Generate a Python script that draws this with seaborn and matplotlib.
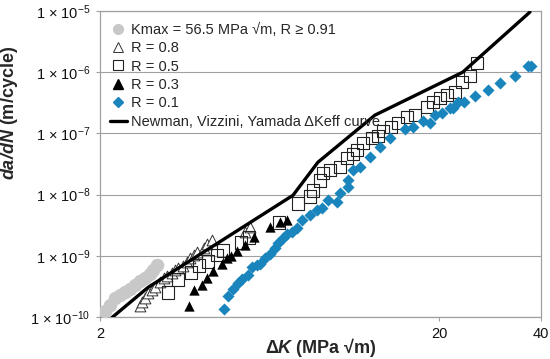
import matplotlib
matplotlib.use("Agg")
import matplotlib.pyplot as plt
import seaborn as sns
import pandas as pd
from matplotlib.lines import Line2D
from matplotlib.ticker import FixedLocator, NullLocator, FixedFormatter

# ---------------- data ----------------
kmax_dk = [2.07, 2.14, 2.21, 2.29, 2.37, 2.45, 2.54, 2.62, 2.71, 2.81, 2.87, 2.95]
kmax_da = [1.23e-10, 1.60e-10, 2.08e-10, 2.25e-10, 2.61e-10, 2.82e-10, 3.28e-10,
           3.81e-10, 4.27e-10, 4.96e-10, 5.77e-10, 6.97e-10]

r08_dk = [2.62, 2.66, 2.71, 2.77, 2.85, 2.91, 3.01, 3.09, 3.15, 3.26, 3.33, 3.40,
          3.51, 3.61, 3.69, 3.79, 3.87, 4.05, 4.14, 4.28, 5.36, 5.54]
r08_da = [1.54e-10, 1.73e-10, 2.08e-10, 2.43e-10, 2.72e-10, 3.04e-10, 3.67e-10,
          4.27e-10, 4.60e-10, 5.15e-10, 5.77e-10, 6.30e-10, 6.71e-10, 7.80e-10,
          9.06e-10, 1.02e-9, 1.14e-9, 1.32e-9, 1.54e-9, 1.79e-9, 2.42e-9, 2.92e-9]

r05_dk = [3.17, 3.40, 3.71, 3.92, 4.17, 4.43, 4.61, 5.21, 5.50, 6.75, 7.67, 8.33,
          8.50, 8.91, 9.10, 9.54, 10.21, 10.71, 11.15, 11.46, 11.94, 12.69, 13.21,
          13.68, 14.44, 15.14, 16.09, 16.99, 18.44, 19.20, 20.14, 21.1, 22.3, 23.4,
          24.7, 25.9]
r05_da = [2.52e-10, 4.11e-10, 5.35e-10, 6.97e-10, 8.09e-10, 1.02e-9, 1.22e-9,
          1.66e-9, 2.00e-9, 3.52e-9, 7.21e-9, 9.38e-9, 1.17e-8, 1.71e-8, 2.23e-8,
          2.50e-8, 2.80e-8, 3.93e-8, 4.57e-8, 5.31e-8, 6.92e-8, 8.34e-8, 9.0e-8,
          1.09e-7, 1.26e-7, 1.47e-7, 1.84e-7, 1.99e-7, 2.69e-7, 3.24e-7, 3.77e-7,
          4.22e-7, 4.72e-7, 6.89e-7, 8.63e-7, 1.41e-6]

r03_dk = [3.66, 3.79, 4.00, 4.14, 4.31, 4.58, 4.74, 4.87, 5.07, 5.36, 5.69, 6.35,
          6.79, 7.12]
r03_da = [1.49e-10, 2.72e-10, 3.28e-10, 4.27e-10, 5.56e-10, 7.23e-10, 9.06e-10,
          9.77e-10, 1.18e-9, 1.48e-9, 2.00e-9, 2.92e-9, 3.52e-9, 3.80e-9]

r01_dk = [4.64, 4.77, 4.94, 5.11, 5.25, 5.47, 5.62, 5.81, 5.93, 6.13, 6.35, 6.57,
          6.70, 6.93, 7.12, 7.37, 7.62, 7.89, 8.33, 8.73, 9.04, 9.41, 10.00, 10.21,
          10.78, 10.78, 11.15, 11.69, 12.52, 13.40, 14.34, 15.88, 16.76, 17.94,
          18.82, 19.46, 20.41, 21.55, 21.99, 22.76, 23.70, 25.55, 27.90, 30.27,
          33.52, 36.60, 37.36]
r01_da = [1.33e-10, 2.17e-10, 2.82e-10, 3.53e-10, 4.11e-10, 4.78e-10, 6.46e-10,
          6.97e-10, 7.23e-10, 9.06e-10, 1.09e-9, 1.32e-9, 1.60e-9, 1.93e-9, 2.24e-9,
          2.42e-9, 2.81e-9, 3.80e-9, 4.58e-9, 5.53e-9, 5.97e-9, 8.07e-9, 7.48e-9,
          1.05e-8, 1.32e-8, 1.71e-8, 2.50e-8, 2.80e-8, 4.08e-8, 5.94e-8, 8.34e-8,
          1.17e-7, 1.26e-7, 1.58e-7, 1.47e-7, 1.99e-7, 2.14e-7, 2.58e-7, 2.58e-7,
          3.24e-7, 3.24e-7, 4.06e-7, 5.09e-7, 6.63e-7, 8.63e-7, 1.26e-6, 1.26e-6]

newman_dk = [2.17, 2.77, 7.42, 8.79, 12.95, 23.5, 37.1]
newman_da = [0.98e-10, 3.04e-10, 9.75e-9, 3.38e-8, 1.99e-7, 1.0e-6, 9.6e-6]

legend_labels = ["Kmax = 56.5 MPa \u221am, R \u2265 0.91", "R = 0.8", "R = 0.5",
                 "R = 0.3", "R = 0.1", "Newman, Vizzini, Yamada \u0394Keff curve"]
ytick_vals = [1e-10, 1e-9, 1e-8, 1e-7, 1e-6, 1e-5]
ytick_labels = ["1 \u00d7 10$^{-10}$", "1 \u00d7 10$^{-9}$", "1 \u00d7 10$^{-8}$",
                "1 \u00d7 10$^{-7}$", "1 \u00d7 10$^{-6}$", "1 \u00d7 10$^{-5}$"]
xtick_vals = [2, 20, 40]
xtick_labels = ["2", "20", "40"]

# ---------------- styling ----------------
sns.set_theme(style="white")
plt.rcParams["font.family"] = ["Liberation Sans", "DejaVu Sans"]
plt.rcParams["mathtext.fontset"] = "custom"
plt.rcParams["mathtext.rm"] = "Liberation Sans"
plt.rcParams["mathtext.it"] = "Liberation Sans:italic"
plt.rcParams["mathtext.bf"] = "Liberation Sans:bold"
plt.rcParams["mathtext.bfit"] = "Liberation Sans:italic:bold"
plt.rcParams["mathtext.default"] = "regular"

GRAY_C = "#c8c8c8"
BLUE = "#1a84bd"
AX_GRAY = "#a0a0a0"

fig = plt.figure(figsize=(5.5, 3.59), dpi=100)
ax = fig.add_axes([100 / 550, 1 - 317 / 359, 441 / 550, 306 / 359])

df_k = pd.DataFrame({"dk": kmax_dk, "da": kmax_da})
df_8 = pd.DataFrame({"dk": r08_dk, "da": r08_da})
df_5 = pd.DataFrame({"dk": r05_dk, "da": r05_da})
df_3 = pd.DataFrame({"dk": r03_dk, "da": r03_da})
df_1 = pd.DataFrame({"dk": r01_dk, "da": r01_da})
df_n = pd.DataFrame({"dk": newman_dk, "da": newman_da})

ax.set_xscale("log")
ax.set_yscale("log")

sns.scatterplot(data=df_k, x="dk", y="da", ax=ax, marker="o", s=95,
                color=GRAY_C, edgecolor=GRAY_C, linewidth=0, zorder=3)
sns.scatterplot(data=df_8, x="dk", y="da", ax=ax, marker="^", s=60,
                facecolor="white", edgecolor="#333333", linewidth=0.7, zorder=3)
sns.scatterplot(data=df_5, x="dk", y="da", ax=ax, marker="s", s=80,
                facecolor="none", edgecolor="#222222", linewidth=0.8, zorder=3)
sns.scatterplot(data=df_3, x="dk", y="da", ax=ax, marker="^", s=55,
                color="black", edgecolor="black", linewidth=0, zorder=4)
sns.scatterplot(data=df_1, x="dk", y="da", ax=ax, marker="D", s=38,
                color=BLUE, edgecolor=BLUE, linewidth=0, zorder=4)
sns.lineplot(data=df_n, x="dk", y="da", ax=ax, sort=False, color="black",
             linewidth=2.4, zorder=5)

ax.set_xlim(2, 40)
ax.set_ylim(1e-10, 1e-5)

ax.yaxis.set_major_locator(FixedLocator(ytick_vals))
ax.yaxis.set_major_formatter(FixedFormatter(ytick_labels))
ax.yaxis.set_minor_locator(NullLocator())
ax.xaxis.set_major_locator(FixedLocator(xtick_vals))
ax.xaxis.set_major_formatter(FixedFormatter(xtick_labels))
ax.xaxis.set_minor_locator(NullLocator())

ax.tick_params(axis="both", which="major", direction="out", length=3,
               width=0.8, color=AX_GRAY, labelsize=10.5, pad=4,
               labelcolor="#111111")
ax.tick_params(axis="x", pad=4)
ax.tick_params(axis="x", bottom=True)
ax.tick_params(axis="y", left=True)

ax.grid(True, axis="y", color=AX_GRAY, linewidth=0.8)
ax.grid(False, axis="x")
for sp in ax.spines.values():
    sp.set_visible(True)
    sp.set_color(AX_GRAY)
    sp.set_linewidth(0.9)

ax.set_xlabel("$\\mathbf{\\Delta}\\mathbfit{K}$ (MPa \u221am)",
              fontsize=13, fontweight="bold")
ax.xaxis.set_label_coords(0.5, -0.062)
ax.set_ylabel(r"$\mathbfit{da/dN}$ (m/cycle)", fontsize=13, fontweight="bold")
ax.yaxis.set_label_coords(-0.182, 0.667)

handles = [
    Line2D([], [], linestyle="none", marker="o", markersize=7,
           markerfacecolor=GRAY_C, markeredgecolor=GRAY_C),
    Line2D([], [], linestyle="none", marker="^", markersize=6.5,
           markerfacecolor="white", markeredgecolor="#333333", markeredgewidth=0.7),
    Line2D([], [], linestyle="none", marker="s", markersize=6.5,
           markerfacecolor="none", markeredgecolor="#222222", markeredgewidth=0.8),
    Line2D([], [], linestyle="none", marker="^", markersize=6.5,
           markerfacecolor="black", markeredgecolor="black"),
    Line2D([], [], linestyle="none", marker="D", markersize=5.5,
           markerfacecolor=BLUE, markeredgecolor=BLUE),
    Line2D([], [], color="black", linewidth=2.4),
]
ax.legend(handles, legend_labels, loc="upper left",
          bbox_to_anchor=(0.022, 0.962), frameon=False, fontsize=10.5,
          borderpad=0, borderaxespad=0, handlelength=1.2, handletextpad=0.25,
          labelspacing=0.3)

fig.savefig("out.png", dpi=100)
